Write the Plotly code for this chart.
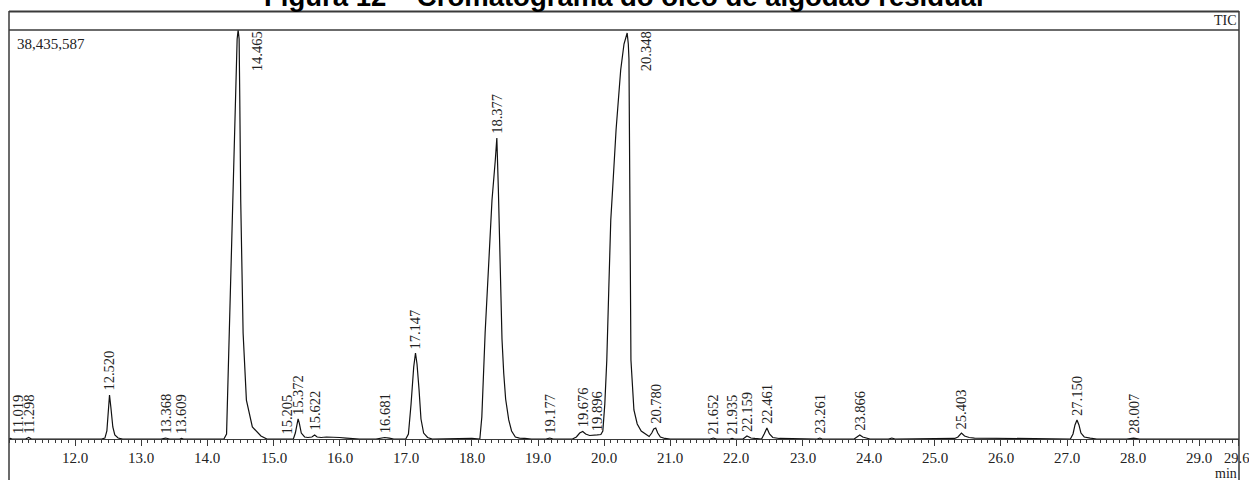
import numpy as np
import plotly.graph_objects as go

# ---------------- data ----------------
full_scale_counts = 38435587  # value printed at top-left (full scale)

# retention time (min) of the TIC trace samples
times = [
    11.00, 11.019, 11.05, 11.25, 11.298, 11.34,
    12.40, 12.45, 12.48, 12.50, 12.52, 12.54, 12.57, 12.60, 12.65, 12.72,
    13.30, 13.368, 13.43, 13.58, 13.609, 13.64,
    14.25, 14.29, 14.33, 14.38, 14.42, 14.45, 14.465, 14.48, 14.49, 14.504,
    14.54, 14.59, 14.68, 14.81, 14.90,
    15.18, 15.205, 15.23, 15.30, 15.33, 15.36, 15.372, 15.39, 15.42, 15.47,
    15.52, 15.58, 15.622, 15.66, 15.72, 15.80, 15.90, 16.00, 16.10, 16.20, 16.30,
    16.55, 16.62, 16.681, 16.75, 16.82,
    17.00, 17.04, 17.08, 17.12, 17.147, 17.17, 17.20, 17.23, 17.27, 17.33, 17.40,
    17.80, 18.00, 18.12, 18.15, 18.20, 18.254, 18.304, 18.354, 18.377, 18.40,
    18.429, 18.455, 18.481, 18.51, 18.557, 18.60, 18.657, 18.72, 18.80, 18.90,
    19.12, 19.177, 19.23,
    19.52, 19.58, 19.63, 19.676, 19.72, 19.78, 19.85, 19.896, 19.95, 19.98,
    20.01, 20.04, 20.07, 20.10, 20.13, 20.18, 20.25, 20.30, 20.348, 20.365,
    20.375, 20.385, 20.405, 20.45, 20.50, 20.56, 20.62, 20.68, 20.72, 20.75,
    20.78, 20.81, 20.85, 20.92, 21.00,
    21.60, 21.652, 21.70, 21.90, 21.935, 21.97,
    22.10, 22.159, 22.22, 22.28, 22.38, 22.42, 22.461, 22.50, 22.55, 22.65, 23.00,
    23.22, 23.261, 23.30,
    23.78, 23.82, 23.866, 23.91, 23.96, 24.02,
    24.30, 24.35, 24.40,
    24.75, 24.80, 25.30, 25.35, 25.403, 25.45, 25.52, 25.60, 26.00, 26.60, 26.65,
    26.90, 27.05, 27.09, 27.12, 27.150, 27.18, 27.21, 27.26, 27.35, 27.45,
    27.90, 28.007, 28.10, 29.60,
]

# TIC intensity in millions of counts at each sample
intensity_millions = [
    0.00, 0.05, 0.00, 0.00, 0.14, 0.00,
    0.00, 0.09, 0.75, 2.82, 4.13, 3.01, 1.13, 0.38, 0.09, 0.00,
    0.00, 0.09, 0.00, 0.00, 0.05, 0.00,
    0.00, 0.47, 9.96, 22.46, 31.86, 37.59, 38.435587, 37.59, 31.86, 22.46,
    9.96, 3.66, 1.13, 0.28, 0.00,
    0.00, 0.05, 0.00, 0.00, 0.56, 1.69, 1.88, 1.50, 0.56, 0.19,
    0.14, 0.19, 0.38, 0.19, 0.14, 0.19, 0.19, 0.14, 0.09, 0.05, 0.00,
    0.00, 0.09, 0.14, 0.09, 0.00,
    0.00, 0.47, 3.29, 6.77, 8.08, 7.05, 4.70, 1.88, 0.56, 0.14, 0.00,
    0.05, 0.05, 0.00, 2.07, 9.96, 16.16, 22.46, 26.22, 28.29, 23.49,
    15.22, 9.40, 6.20, 3.76, 1.79, 0.75, 0.19, 0.09, 0.05, 0.00,
    0.00, 0.09, 0.00,
    0.00, 0.19, 0.56, 0.70, 0.47, 0.33, 0.33, 0.38, 0.42, 0.75,
    3.30, 7.42, 14.10, 20.58, 23.68, 29.04, 34.68, 37.12, 38.15, 37.12,
    35.71, 20.58, 7.42, 2.73, 1.41, 0.75, 0.47, 0.23, 0.56, 0.94,
    1.03, 0.56, 0.19, 0.05, 0.00,
    0.00, 0.09, 0.00, 0.00, 0.05, 0.00,
    0.00, 0.28, 0.09, 0.05, 0.00, 0.47, 1.03, 0.47, 0.14, 0.05, 0.03,
    0.00, 0.09, 0.00,
    0.00, 0.19, 0.38, 0.19, 0.09, 0.00,
    0.00, 0.09, 0.00,
    0.00, 0.05, 0.05, 0.19, 0.56, 0.28, 0.14, 0.09, 0.05, 0.05, 0.00,
    0.00, 0.00, 0.47, 1.32, 1.79, 1.32, 0.56, 0.19, 0.09, 0.00,
    0.00, 0.09, 0.00, 0.00,
]

# labelled peak retention times
peak_times = [
    11.019, 11.298, 12.520, 13.368, 13.609, 14.465, 15.205, 15.372, 15.622,
    16.681, 17.147, 18.377, 19.177, 19.676, 19.896, 20.348, 20.780, 21.652,
    21.935, 22.159, 22.461, 23.261, 23.866, 25.403, 27.150, 28.007,
]
peak_labels = [f"{t:.3f}" for t in peak_times]

# x axis tick values / labels
major_ticks = [12.0, 13.0, 14.0, 15.0, 16.0, 17.0, 18.0, 19.0, 20.0, 21.0,
               22.0, 23.0, 24.0, 25.0, 26.0, 27.0, 28.0, 29.0, 29.6]
major_tick_text = ["12.0", "13.0", "14.0", "15.0", "16.0", "17.0", "18.0",
                   "19.0", "20.0", "21.0", "22.0", "23.0", "24.0", "25.0",
                   "26.0", "27.0", "28.0", "29.0", "29.6"]

title_text = "Figura 12 – Cromatograma do óleo de algodão residual"

# ---------------- layout geometry ----------------
W, H = 1249, 480
ML, MR, MT, MB = 9, 10, 30, 41
plot_w = W - ML - MR
plot_h = H - MT - MB
x_min, x_max = 11.0, 29.6
y_max = full_scale_counts / 1e6


def py(px_y):
    """pixel row -> paper y"""
    return (H - MB - px_y) / plot_h


def pxp(px_x_abs):
    """pixel column -> paper x"""
    return (px_x_abs - ML) / plot_w


def px_x(t):
    return (t - x_min) / (x_max - x_min) * plot_w


serif = "Liberation Serif, Times New Roman, serif"
ink = "#222222"
frame = "#3a3a3a"

fig = go.Figure()
fig.add_trace(go.Scatter(
    x=times, y=intensity_millions, mode="lines",
    line=dict(color="#111111", width=1.2),
    hoverinfo="skip", showlegend=False,
))

annotations = []
label_font = dict(family=serif, size=14.5, color=ink)
label_len_px = 42
for t, lab in zip(peak_times, peak_labels):
    apex = float(np.interp(t, times, intensity_millions))
    apex_px = apex / y_max * plot_h
    xshift = max(0.0, 9.0 - px_x(t))
    if apex_px + 4 + label_len_px > plot_h:
        annotations.append(dict(
            x=t, y=1, xref="x", yref="paper", text=lab, textangle=-90,
            xanchor="center", yanchor="top", showarrow=False,
            xshift=19, font=label_font, borderpad=0,
        ))
    else:
        annotations.append(dict(
            x=t, y=apex, xref="x", yref="y", text=lab, textangle=-90,
            xanchor="center", yanchor="bottom", showarrow=False,
            xshift=xshift, yshift=3, font=label_font, borderpad=0,
        ))

# tick labels drawn as text so the last one ("29.6") stays inside the page
for v, txt in zip(major_ticks, major_tick_text):
    is_last = v == major_ticks[-1]
    annotations.append(dict(
        x=v, y=py(458), xref="x", yref="paper", text=txt, showarrow=False,
        xanchor="center", yanchor="middle",
        xshift=-2.5 if is_last else 0, borderpad=0,
        font=dict(family=serif, size=14.5 if is_last else 15, color=ink),
    ))

annotations += [
    dict(x=pxp(15), y=py(43.5), xref="paper", yref="paper",
         text=f"{full_scale_counts:,}", showarrow=False,
         xanchor="left", yanchor="middle",
         font=dict(family=serif, size=15, color=ink)),
    dict(x=1, y=py(20.5), xref="paper", yref="paper", text="TIC",
         showarrow=False, xanchor="right", yanchor="middle",
         font=dict(family=serif, size=14, color=ink)),
    dict(x=1, y=py(473), xref="paper", yref="paper", text="min",
         showarrow=False, xanchor="right", yanchor="middle",
         font=dict(family=serif, size=14, color=ink)),
    dict(x=pxp(624), y=py(14), xref="paper", yref="paper",
         text=f"<b>{title_text}</b>", showarrow=False,
         xanchor="center", yanchor="bottom",
         font=dict(family="Liberation Sans, Arial, sans-serif", size=27.5,
                   color="#000000")),
]

shapes = [
    # header strip top and bottom
    dict(type="line", xref="paper", yref="paper", x0=0, x1=1,
         y0=py(11.5), y1=py(11.5), line=dict(color=frame, width=2)),
    dict(type="line", xref="paper", yref="paper", x0=0, x1=1,
         y0=1, y1=1, line=dict(color=frame, width=1.5)),
    # outer frame sides
    dict(type="line", xref="paper", yref="paper", x0=0, x1=0,
         y0=py(11), y1=py(482), line=dict(color=frame, width=1.5)),
    dict(type="line", xref="paper", yref="paper", x0=1, x1=1,
         y0=py(11), y1=py(482), line=dict(color=frame, width=1.5)),
]

fig.update_layout(
    width=W, height=H,
    margin=dict(l=ML, r=MR, t=MT, b=MB, pad=0),
    paper_bgcolor="white", plot_bgcolor="white",
    showlegend=False,
    annotations=annotations,
    shapes=shapes,
    xaxis=dict(
        range=[x_min, x_max + 1e-4], tickmode="array", tickvals=major_ticks,
        ticktext=major_tick_text, showticklabels=False,
        ticks="outside", ticklen=6, tickwidth=1,
        tickcolor=frame, showline=True, linecolor=frame, linewidth=1,
        showgrid=False, zeroline=False, automargin=False,
        minor=dict(tickmode="linear", tick0=11.0, dtick=0.1, ticks="outside",
                   ticklen=3, tickcolor=frame, showgrid=False),
    ),
    yaxis=dict(range=[0, y_max], visible=False, automargin=False),
)

fig.write_html("out.html")
